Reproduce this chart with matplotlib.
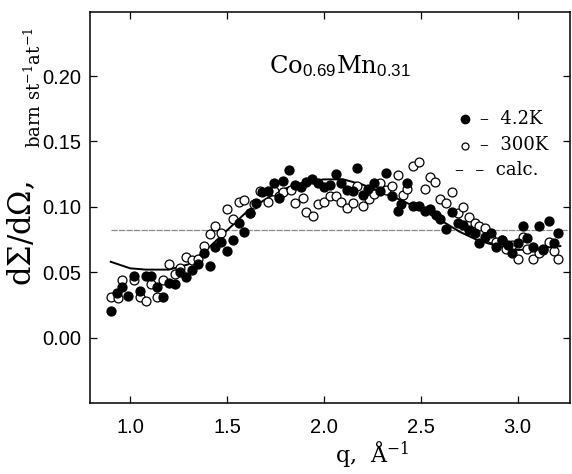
import matplotlib
matplotlib.use("Agg")
import matplotlib.pyplot as plt

# 4.2K (filled)
q_4k = [0.90, 0.93, 0.96, 0.99, 1.02, 1.05, 1.08, 1.11, 1.14, 1.17, 1.20, 1.23, 1.26, 1.29,
        1.32, 1.35, 1.38, 1.41, 1.44, 1.47, 1.50, 1.53, 1.56, 1.59, 1.62, 1.65, 1.68, 1.71,
        1.74, 1.77, 1.79, 1.82, 1.85, 1.88, 1.91, 1.94, 1.97, 2.00, 2.03, 2.06, 2.09, 2.12,
        2.15, 2.17, 2.20, 2.23, 2.26, 2.29, 2.32, 2.35, 2.38, 2.40, 2.43, 2.46, 2.49, 2.52,
        2.55, 2.58, 2.60, 2.63, 2.66, 2.69, 2.72, 2.75, 2.78, 2.80, 2.83, 2.86, 2.89, 2.92,
        2.95, 2.97, 3.00, 3.03, 3.05, 3.08, 3.11, 3.13, 3.16, 3.19, 3.21]
v_4k = [0.020, 0.034, 0.039, 0.032, 0.047, 0.036, 0.047, 0.047, 0.039, 0.031, 0.042, 0.041, 0.050, 0.046,
        0.052, 0.056, 0.065, 0.055, 0.069, 0.073, 0.066, 0.075, 0.088, 0.081, 0.095, 0.103, 0.111, 0.112,
        0.118, 0.107, 0.120, 0.128, 0.117, 0.115, 0.119, 0.121, 0.118, 0.115, 0.117, 0.125, 0.118, 0.113,
        0.112, 0.130, 0.109, 0.114, 0.118, 0.112, 0.126, 0.108, 0.097, 0.102, 0.118, 0.101, 0.101, 0.097,
        0.098, 0.094, 0.091, 0.083, 0.096, 0.088, 0.086, 0.082, 0.080, 0.072, 0.077, 0.080, 0.069, 0.075,
        0.071, 0.065, 0.072, 0.085, 0.076, 0.069, 0.085, 0.068, 0.089, 0.072, 0.080]

# 300K (open)
q_300k = [0.90, 0.94, 0.96, 1.02, 1.05, 1.08, 1.11, 1.14, 1.17, 1.20, 1.23, 1.26, 1.29, 1.32,
          1.35, 1.38, 1.41, 1.44, 1.47, 1.50, 1.53, 1.56, 1.59, 1.62, 1.64, 1.67, 1.71, 1.74,
          1.77, 1.79, 1.83, 1.85, 1.89, 1.91, 1.945, 1.97, 2.00, 2.03, 2.06, 2.09, 2.12, 2.15,
          2.17, 2.20, 2.235, 2.26, 2.29, 2.32, 2.35, 2.38, 2.41, 2.43, 2.46, 2.49, 2.52, 2.545,
          2.575, 2.60, 2.63, 2.66, 2.69, 2.72, 2.75, 2.78, 2.80, 2.83, 2.86, 2.89, 2.92, 2.94,
          2.97, 3.00, 3.03, 3.05, 3.08, 3.11, 3.13, 3.16, 3.19, 3.21]
v_300k = [0.031, 0.030, 0.044, 0.044, 0.031, 0.028, 0.041, 0.031, 0.044, 0.056, 0.049, 0.053, 0.062, 0.059,
          0.060, 0.070, 0.079, 0.085, 0.080, 0.098, 0.091, 0.104, 0.105, 0.095, 0.102, 0.112, 0.104, 0.112,
          0.108, 0.111, 0.113, 0.103, 0.107, 0.096, 0.093, 0.102, 0.104, 0.108, 0.108, 0.104, 0.099, 0.103,
          0.116, 0.101, 0.106, 0.110, 0.118, 0.113, 0.116, 0.124, 0.109, 0.114, 0.131, 0.134, 0.114, 0.123,
          0.119, 0.106, 0.103, 0.111, 0.095, 0.100, 0.092, 0.088, 0.085, 0.084, 0.076, 0.073, 0.075, 0.068,
          0.071, 0.060, 0.077, 0.068, 0.060, 0.065, 0.067, 0.073, 0.066, 0.060]

# calculated curve
q_calc = [0.90, 1.00, 1.08, 1.20, 1.30, 1.40, 1.50, 1.60, 1.70, 1.80, 1.90, 2.00,
          2.10, 2.20, 2.30, 2.40, 2.50, 2.60, 2.70, 2.80, 2.90, 3.00, 3.10, 3.22]
v_calc = [0.058, 0.053, 0.052, 0.052, 0.056, 0.068, 0.082, 0.096, 0.106, 0.114, 0.119, 0.121,
          0.121, 0.117, 0.111, 0.105, 0.098, 0.090, 0.081, 0.074, 0.070, 0.067, 0.068, 0.070]

ref_level = 0.082
xticks = [1.0, 1.5, 2.0, 2.5, 3.0]
yticks = [0.00, 0.05, 0.10, 0.15, 0.20]

serif = "DejaVu Serif"
plt.rcParams['mathtext.fontset'] = 'custom'
plt.rcParams['mathtext.rm'] = serif
plt.rcParams['mathtext.sf'] = 'Liberation Sans'
plt.rcParams['mathtext.it'] = serif + ':italic'

W, H = 572, 474
fig = plt.figure(figsize=(W / 100, H / 100), dpi=100)
L, R, T, B = 90, 570, 12, 403
ax = fig.add_axes([L / W, 1 - B / H, (R - L) / W, (B - T) / H])

ax.plot([0.90, 3.27], [ref_level, ref_level], color="#8a8a8a", lw=0.9, ls=(0, (5, 1)))
ax.plot(q_calc, v_calc, color="black", lw=1.4)
ax.plot(q_300k, v_300k, "o", ms=6.4, mfc="white", mec="black", mew=0.9)
ax.plot(q_4k, v_4k, "o", ms=6.4, mfc="black", mec="black")

ax.set_xlim(0.793, 3.27)
ax.set_ylim(-0.05, 0.249)
ax.set_xticks(xticks)
ax.set_yticks(yticks)
ax.set_xticklabels([f"{t:.1f}" for t in xticks])
ax.set_yticklabels([f"{t:.2f}" for t in yticks])
ax.tick_params(direction="in", top=True, right=True, length=5, width=0.9)
ax.tick_params(axis="x", pad=11)
ax.tick_params(axis="y", pad=6)
for lab in ax.get_xticklabels() + ax.get_yticklabels():
    lab.set_fontfamily("Liberation Sans")
    lab.set_fontsize(14.5)
for sp in ax.spines.values():
    sp.set_linewidth(1.1)

# formula
ax.text(2.085, 0.208, r"$\mathrm{Co}_{\mathsf{0.69}}\mathrm{Mn}_{\mathsf{0.31}}$",
        fontsize=17.5, ha="center", va="center")

# legend drawn by hand
def axf(px, py):
    return (px - L) / (R - L), (B - py) / (B - T)

ax.plot(*axf(465, 119), "o", ms=6, mfc="black", mec="black", transform=ax.transAxes, clip_on=False)
ax.plot(*axf(465, 146), "o", ms=5, mfc="white", mec="black", mew=0.9, transform=ax.transAxes, clip_on=False)
ax.text(*axf(480, 119), "–  4.2K", transform=ax.transAxes, fontsize=13, family=serif, va="center")
ax.text(*axf(480, 145), "–  300K", transform=ax.transAxes, fontsize=13, family=serif, va="center")
ax.text(*axf(455, 170), "–  –  calc.", transform=ax.transAxes, fontsize=13, family=serif, va="center")

# axis labels
fig.text(22 / W, 1 - 234 / H, r"d$\Sigma$/d$\Omega$,", rotation=90, fontsize=22,
         family=serif, ha="center", va="center")
fig.text(34 / W, 1 - 88 / H, r"barn st$^{-1}$at$^{-1}$", rotation=90, fontsize=13,
         family=serif, ha="center", va="center")
fig.text(372 / W, 1 - 455 / H, r"q,  Å$^{-1}$", fontsize=16, family=serif,
         ha="center", va="center")

fig.savefig("out.png", dpi=100)
